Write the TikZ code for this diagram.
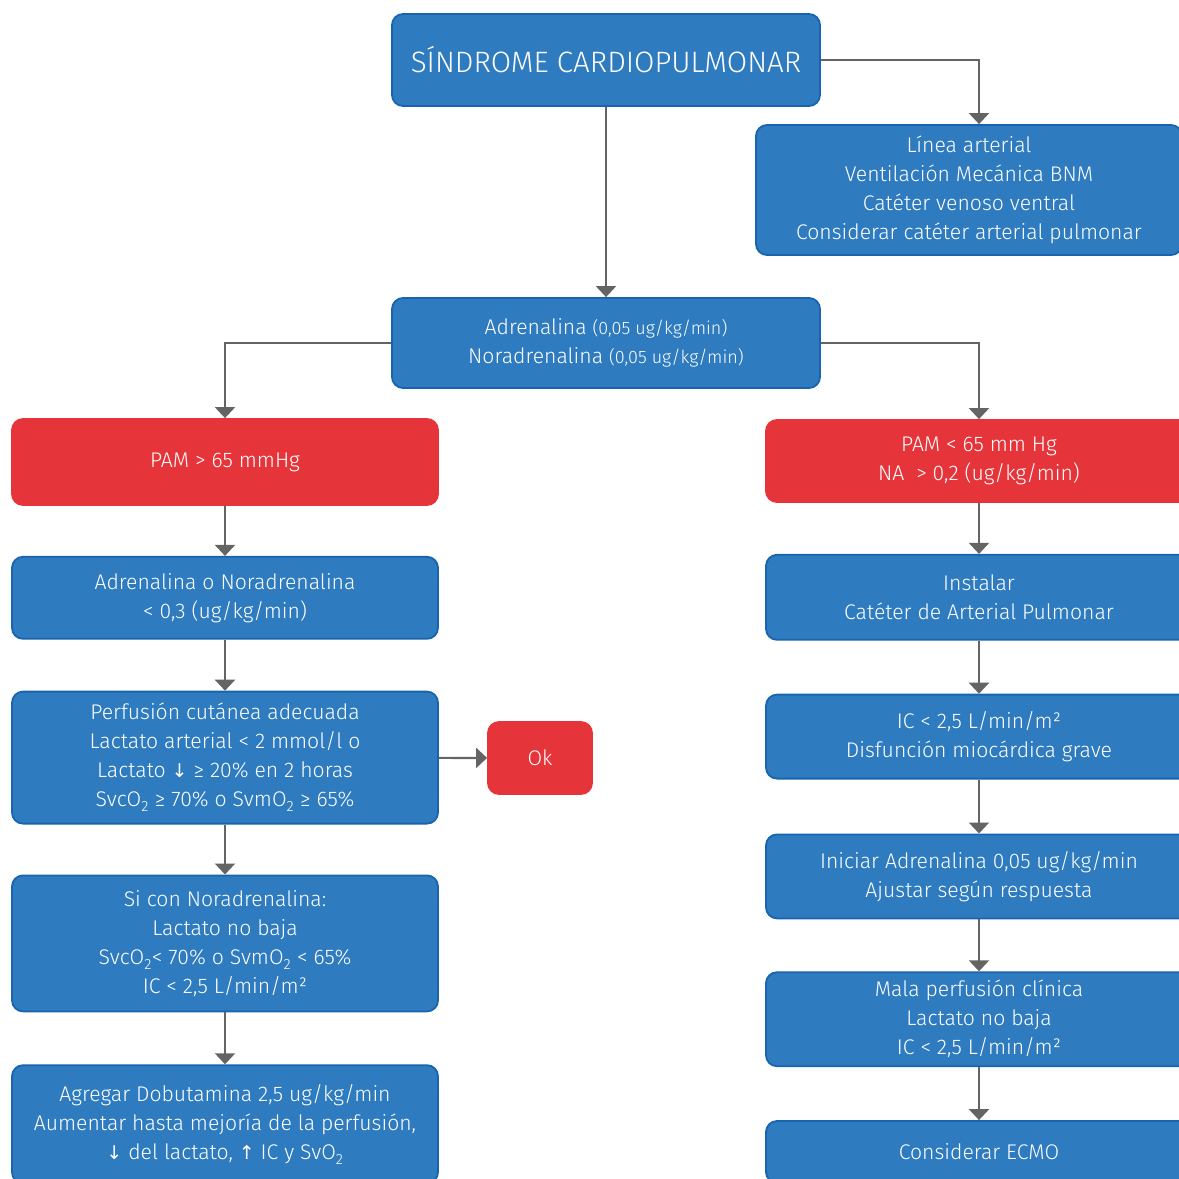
\documentclass[tikz,border=0pt]{standalone}
\usepackage{fontspec}
\setmainfont{Fira Sans}[UprightFont=* Light]
\newfontfamily\flechafont{DejaVu Sans}
\usetikzlibrary{positioning,arrows.meta,calc}

\definecolor{azul}{HTML}{2E7BC0}
\definecolor{azulborde}{HTML}{1864AE}
\definecolor{rojo}{HTML}{E6353A}
\definecolor{gris}{HTML}{646464}

\newcommand{\bajo}{{\flechafont\fontsize{19}{29}\selectfont↓}}
\newcommand{\alto}{{\flechafont\fontsize{19}{29}\selectfont↑}}
\newcommand{\dos}{\raisebox{-2pt}{\textsubscript{2}}}

\begin{document}
\begin{tikzpicture}[x=1pt,y=1pt,node distance=50pt,
    caja/.style={rectangle, rounded corners=11pt, line width=1.8pt, text=white,
      align=center, minimum width=426pt, font=\fontsize{21.2}{29}\selectfont},
    azulcaja/.style={caja, fill=azul, draw=azulborde},
    rojacaja/.style={caja, fill=rojo, draw=rojo},
    flecha/.style={draw=gris, line width=2.2pt, -{Triangle[width=20pt,length=11pt]}}]
    \useasboundingbox (0,0) rectangle (1179,-1179);
    \clip (0,0) rectangle (1179,-1179);
    %
    \node[azulcaja, minimum width=428pt, minimum height=92pt, font=\fontsize{29.5}{34}\selectfont] (sindrome) at (606,-60) {SÍNDROME CARDIOPULMONAR};
    \node[azulcaja, minimum height=130pt] (medidas) at (969,-190) {Línea arterial\\Ventilación Mecánica BNM\\Catéter venoso ventral\\Considerar catéter arterial pulmonar};
    \node[azulcaja, minimum width=428pt, minimum height=90pt] (vasoact) at (606,-343) {Adrenalina {\fontsize{18}{29}\selectfont(0,05 ug/kg/min)}\\Noradrenalina {\fontsize{18}{29}\selectfont(0,05 ug/kg/min)}};
    %
    \node[rojacaja, minimum height=86pt] (pamalta) at (225,-462) {PAM > 65 mmHg};
    \node[azulcaja, minimum height=82pt, below=of pamalta] (adrmenor) {Adrenalina o Noradrenalina\\< 0,3 (ug/kg/min)};
    \node[azulcaja, minimum height=132pt, below=51pt of adrmenor] (perfusion) {Perfusión cutánea adecuada\\Lactato arterial < 2 mmol/l o\\Lactato \bajo{} ≥ 20\% en 2 horas\\SvcO\dos{} ≥ 70\% o SvmO\dos{} ≥ 65\%};
    \node[rojacaja, minimum width=104pt, minimum height=72pt] (ok) at (540,-758) {Ok};
    \node[azulcaja, minimum height=136pt, below=of perfusion] (sinora) {Si con Noradrenalina:\\Lactato no baja\\SvcO\dos{}< 70\% o SvmO\dos{} < 65\%\\IC < 2,5 L/min/m²};
    \node[azulcaja, minimum height=118pt, below=52pt of sinora] (dobuta) {Agregar Dobutamina 2,5 ug/kg/min\\Aumentar hasta mejoría de la perfusión,\\\bajo{} del lactato, \alto{} IC y SvO\dos};
    %
    \node[rojacaja, minimum height=82pt] (pambaja) at (979,-461) {PAM < 65 mm Hg\\NA \ > 0,2 (ug/kg/min)};
    \node[azulcaja, minimum height=85pt, below=51pt of pambaja] (instalar) {Instalar\\Catéter de Arterial Pulmonar};
    \node[azulcaja, minimum height=84pt, below=53pt of instalar] (icbajo) {IC < 2,5 L/min/m²\\Disfunción miocárdica grave};
    \node[azulcaja, minimum height=84pt, below=54pt of icbajo] (iniciar) {Iniciar Adrenalina 0,05 ug/kg/min\\Ajustar según respuesta};
    \node[azulcaja, minimum height=94pt, below=52pt of iniciar] (mala) {Mala perfusión clínica\\Lactato no baja\\IC < 2,5 L/min/m²};
    \node[azulcaja, minimum height=62pt, below=53pt of mala] (ecmo) {Considerar ECMO};
    %
    \draw[flecha] (sindrome.east) -| ([xshift=10pt]medidas.north);
    \draw[flecha] (sindrome) -- (vasoact);
    \draw[flecha] (vasoact.west) -| (pamalta.north);
    \draw[flecha] (vasoact.east) -| (pambaja.north);
    %
    \draw[flecha] (pamalta) -- (adrmenor);
    \draw[flecha] (adrmenor) -- (perfusion);
    \draw[flecha] (perfusion) -- (ok);
    \draw[flecha] (perfusion) -- (sinora);
    \draw[flecha] (sinora) -- (dobuta);
    %
    \draw[flecha] (pambaja) -- (instalar);
    \draw[flecha] (instalar) -- (icbajo);
    \draw[flecha] (icbajo) -- (iniciar);
    \draw[flecha] (iniciar) -- (mala);
    \draw[flecha] (mala) -- (ecmo);
\end{tikzpicture}
\end{document}
